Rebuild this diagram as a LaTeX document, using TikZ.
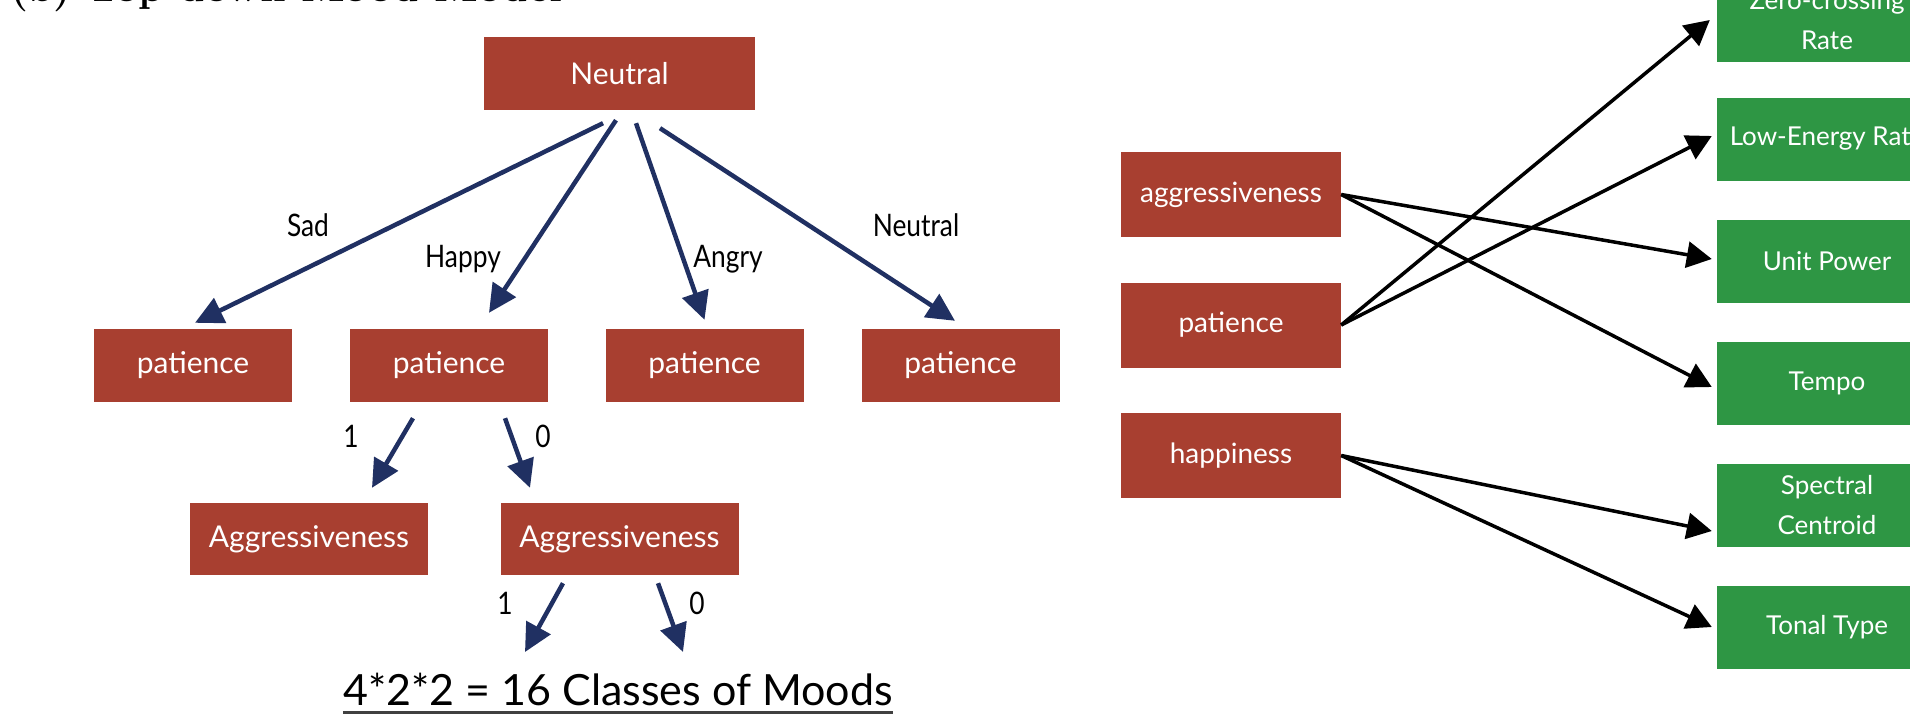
\documentclass[tikz,border=0pt]{standalone}
\usepackage{fontspec}
\usepackage{tikz}
\usetikzlibrary{arrows.meta}

\newfontfamily\boxfont{Lato}
\newfontfamily\lblfont[FakeStretch=0.85]{Lato}
\definecolor{moodred}{RGB}{168,63,48}
\definecolor{featgreen}{RGB}{46,150,68}
\definecolor{treeblue}{RGB}{32,48,98}

\begin{document}
\begin{tikzpicture}[x=1pt, y=-1pt,
    mood/.style={rectangle, fill=moodred, text=white, inner sep=0pt,
        minimum width=198pt, minimum height=73pt,
        font=\boxfont\fontsize{30}{32}\selectfont},
    dim/.style={mood, minimum width=220pt, minimum height=85pt,
        font=\boxfont\fontsize{28}{30}\selectfont},
    feature/.style={rectangle, fill=featgreen, text=white, inner sep=0pt,
        minimum width=220pt, minimum height=83pt, align=center,
        font=\boxfont\fontsize{26}{40}\selectfont},
    branch/.style={draw=treeblue, line width=4.5pt, -{Triangle[length=28pt,width=27pt]}},
    link/.style={draw=black, line width=3.5pt, -{Triangle[length=25pt,width=26pt]}},
    edgelabel/.style={font=\lblfont\fontsize{31}{33}\selectfont, inner sep=0pt}]

    \useasboundingbox (0,0) rectangle (1910,715);

    % Title (cut at the top)
    \node[anchor=base west, inner sep=0pt, font=\fontsize{41}{45}\selectfont\bfseries]
        (title) at (10,1) {(b) Top-down Mood Model};

    % Define the tree nodes with coordinates
    \node[mood, minimum width=271pt] (root) at (619.5,73.5) {Neutral};
    \node[mood] (pat1) at (193,365.5) {patience};
    \node[mood] (pat2) at (449,365.5) {patience};
    \node[mood] (pat3) at (704.5,365.5) {patience};
    \node[mood] (pat4) at (960.5,365.5) {patience};
    \node[mood, minimum width=238pt, minimum height=72pt] (agg1) at (309,539) {Aggressiveness};
    \node[mood, minimum width=238pt, minimum height=72pt] (agg2) at (619.5,539) {Aggressiveness};
    \coordinate (leafa) at (525,652);
    \coordinate (leafb) at (683,652);

    % Branches of the tree
    \draw[branch] ([xshift=-16.5pt,yshift=-13pt]root.south) -- ([xshift=2pt,yshift=6pt]pat1.north);
    \draw[branch] ([xshift=-3.5pt,yshift=-10pt]root.south) -- ([xshift=40pt,yshift=16pt]pat2.north);
    \draw[branch] ([xshift=16.5pt,yshift=-13pt]root.south) -- ([yshift=9pt]pat3.north);
    \draw[branch] ([xshift=40.5pt,yshift=-18pt]root.south) -- ([xshift=-5.5pt,yshift=8pt]pat4.north);
    \draw[branch] ([xshift=-36pt,yshift=-16pt]pat2.south) -- ([xshift=63pt,yshift=15pt]agg1.north);
    \draw[branch] ([xshift=56pt,yshift=-16pt]pat2.south) -- ([xshift=-89.5pt,yshift=15pt]agg2.north);
    \draw[branch] ([xshift=-56.5pt,yshift=-8pt]agg2.south) -- (leafa);
    \draw[branch] ([xshift=38.5pt,yshift=-8pt]agg2.south) -- (leafb);

    % Branch labels
    \node[edgelabel] (lsad) at (308,225) {Sad};
    \node[edgelabel] (lhappy) at (463,259) {Happy};
    \node[edgelabel] (langry) at (728,259) {Angry};
    \node[edgelabel] (lneutral) at (916,225) {Neutral};
    \node[edgelabel] (lone) at (351,436) {1};
    \node[edgelabel] (lzero) at (543,436) {0};
    \node[edgelabel] (ltwo) at (505,603) {1};
    \node[edgelabel] (lthree) at (697,603) {0};

    \node[anchor=base, inner sep=0pt, font=\boxfont\fontsize{43}{46}\selectfont]
        (moods) at (618,705) {4*2*2 = 16 Classes of Moods};
    \draw[line width=3pt, darkgray] ([yshift=-7pt]moods.base west) -- ([yshift=-7pt]moods.base east);

    % Mood dimensions and audio features
    \node[dim] (dagg) at (1231,194.5) {aggressiveness};
    \node[dim] (dpat) at (1231,325) {patience};
    \node[dim] (dhap) at (1231,455.5) {happiness};

    \node[feature] (zcr) at (1827,20) {Zero-crossing\\Rate};
    \node[feature] (ler) at (1827,139) {Low-Energy Rate};
    \node[feature] (upw) at (1827,261) {Unit Power};
    \node[feature] (tmp) at (1827,383) {Tempo};
    \node[feature] (spc) at (1827,505) {Spectral\\Centroid};
    \node[feature] (ton) at (1827,627) {Tonal Type};

    \draw[link] (dagg.east) -- ([xshift=-5pt,yshift=2pt]upw.west);
    \draw[link] (dagg.east) -- ([xshift=-5pt,yshift=-4pt]tmp.west);
    \draw[link] (dpat.east) -- ([xshift=-7pt]zcr.west);
    \draw[link] (dpat.east) -- ([xshift=-5pt,yshift=3pt]ler.west);
    \draw[link] (dhap.east) -- ([xshift=-5pt,yshift=-26pt]spc.west);
    \draw[link] (dhap.east) -- ([xshift=-5pt]ton.west);

\end{tikzpicture}
\end{document}
